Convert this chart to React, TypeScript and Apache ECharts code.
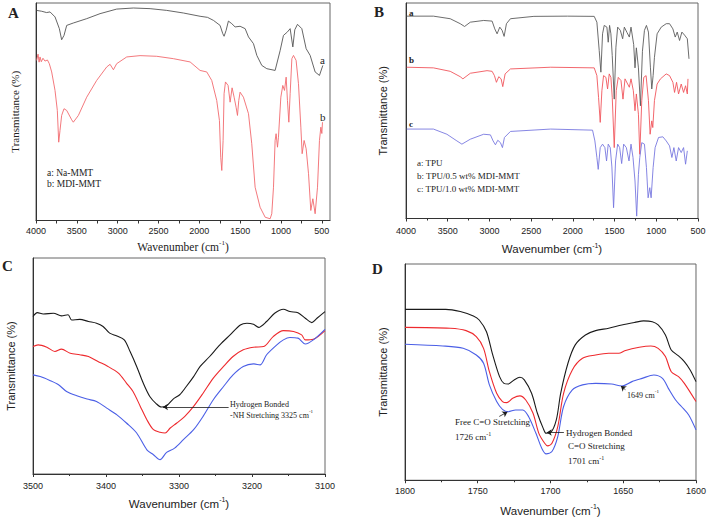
import React, { useEffect, useRef } from "react";
import * as echarts from "echarts";

// ---------- Panel A (Na-MMT / MDI-MMT) ----------
const ticksA = [4000, 3500, 3000, 2500, 2000, 1500, 1000, 500];
const minorA = [4000, 3750, 3500, 3250, 3000, 2750, 2500, 2250, 2000, 1750, 1500, 1250, 1000, 750, 500];
const naMMT: [number, number][] = [
  [3992, 96.6], [3930, 96.2], [3870, 95.6], [3828, 95.9], [3767, 93.6], [3714, 88.2], [3686, 83.1], [3657, 85.1],
  [3624, 89.7], [3543, 90.8], [3379, 92.8], [3216, 95.1], [3012, 97.2], [2807, 97.7], [2603, 97.4], [2399, 96.6],
  [2195, 95.4], [1991, 93.9], [1900, 93.4], [1827, 92.0], [1746, 89.7], [1713, 85.9], [1697, 84.7], [1672, 87.4],
  [1644, 91.7], [1603, 90.5], [1562, 89.0], [1501, 89.3], [1439, 88.2], [1398, 84.4], [1337, 81.3], [1296, 75.9],
  [1235, 71.3], [1174, 69.8], [1072, 69.0], [1010, 78.2], [970, 85.1], [921, 86.7], [888, 88.2], [855, 79.8],
  [831, 87.7], [798, 90.2], [745, 88.2], [692, 79.0], [643, 75.9], [582, 68.3], [529, 66.7], [488, 71.3],
];
const mdiMMT: [number, number][] = [
  [3992, 73.6], [3975, 76.5], [3962, 72.8], [3951, 75.2], [3935, 73.0], [3915, 74.6], [3890, 73.3], [3860, 73.8],
  [3837, 72.1], [3808, 68.3], [3767, 59.8], [3739, 50.6], [3722, 36.0], [3706, 41.4], [3686, 48.3], [3657, 51.4],
  [3624, 50.6], [3563, 46.3], [3543, 45.2], [3481, 48.3], [3379, 56.7], [3257, 64.4], [3134, 70.6], [3093, 71.8],
  [3052, 69.3], [3012, 72.1], [2889, 75.2], [2726, 75.8], [2522, 75.5], [2317, 74.4], [2113, 72.9], [1991, 69.0],
  [1909, 68.3], [1848, 64.4], [1787, 55.2], [1754, 46.0], [1738, 29.1], [1725, 23.0], [1709, 36.8], [1697, 58.3],
  [1680, 63.7], [1648, 62.1], [1623, 54.4], [1599, 61.0], [1574, 56.7], [1550, 52.1], [1533, 48.3], [1517, 55.2],
  [1501, 59.0], [1460, 56.7], [1398, 49.1], [1358, 35.3], [1317, 15.3], [1256, 6.1], [1194, 1.5], [1133, 0.8],
  [1113, 3.1], [1092, 15.3], [1072, 36.8], [1060, 39.9], [1043, 33.7], [1031, 38.3], [1002, 56.7], [978, 62.1],
  [957, 59.8], [937, 65.9], [921, 55.2], [904, 45.2], [888, 58.3], [867, 74.4], [847, 75.9], [815, 73.6],
  [786, 62.9], [757, 42.9], [741, 30.7], [717, 36.8], [692, 33.0], [663, 21.5], [635, 4.6], [610, 10.0],
  [582, 3.1], [553, 15.3], [529, 36.8], [512, 42.9], [500, 40.0], [492, 45.2],
];

// ---------- Panel B (TPU composites) ----------
const tpu: [number, number][] = [
  [3992, 93.9], [3671, 93.9], [3470, 92.7], [3350, 90.4], [3298, 89.1], [3229, 91.1], [3069, 91.9], [2968, 91.6],
  [2936, 88.0], [2908, 85.7], [2876, 88.8], [2848, 87.3], [2824, 84.5], [2796, 90.4], [2748, 92.7], [2467, 93.8],
  [2065, 93.9], [1744, 93.8], [1712, 91.1], [1684, 77.9], [1664, 67.9], [1644, 85.7], [1624, 89.6], [1592, 88.8],
  [1576, 81.8], [1560, 89.6], [1544, 85.7], [1528, 75.6], [1504, 55.4], [1484, 79.5], [1463, 88.8], [1431, 87.3],
  [1403, 83.4], [1383, 88.8], [1351, 86.3], [1323, 84.2], [1303, 88.8], [1271, 80.7], [1255, 69.9], [1239, 79.2],
  [1214, 69.9], [1190, 52.3], [1166, 77.6], [1142, 87.3], [1118, 89.6], [1094, 86.5], [1070, 69.9], [1054, 60.1],
  [1038, 66.3], [1022, 74.8], [990, 85.7], [941, 88.8], [881, 90.4], [841, 90.4], [801, 88.0], [773, 84.2],
  [749, 86.5], [721, 82.6], [693, 86.5], [661, 85.1], [628, 83.4], [608, 74.1],
];
const tpu05: [number, number][] = [
  [3992, 70.2], [3671, 69.9], [3470, 68.3], [3350, 65.8], [3318, 64.8], [3229, 67.4], [3029, 68.6], [2968, 68.3],
  [2940, 66.3], [2916, 63.2], [2888, 65.8], [2860, 64.8], [2840, 61.2], [2812, 67.1], [2748, 69.4], [2266, 70.2],
  [1744, 69.9], [1712, 66.3], [1692, 56.2], [1672, 44.6], [1652, 59.3], [1632, 66.3], [1604, 65.5], [1584, 60.1],
  [1564, 67.1], [1544, 65.5], [1528, 56.2], [1504, 32.9], [1480, 59.3], [1456, 65.5], [1423, 64.0], [1399, 55.4],
  [1375, 64.8], [1343, 62.4], [1323, 60.9], [1303, 64.8], [1275, 59.3], [1255, 50.0], [1239, 57.8], [1214, 48.4],
  [1198, 29.8], [1174, 54.7], [1150, 65.5], [1122, 66.3], [1094, 54.7], [1074, 39.1], [1054, 45.3], [1042, 42.2],
  [1022, 54.7], [990, 62.4], [950, 64.8], [881, 67.1], [841, 66.3], [801, 63.2], [781, 58.5], [757, 63.2],
  [733, 57.8], [701, 62.4], [673, 58.5], [649, 61.6], [628, 57.8], [620, 64.8],
];
const tpu10: [number, number][] = [
  [3992, 41.5], [3671, 41.5], [3510, 39.1], [3390, 36.0], [3330, 34.5], [3229, 36.8], [3069, 39.1], [2988, 38.8],
  [2956, 36.0], [2928, 34.2], [2900, 36.3], [2868, 35.2], [2844, 32.9], [2820, 37.6], [2748, 40.4], [2266, 41.5],
  [1764, 41.0], [1736, 36.0], [1712, 28.3], [1696, 22.8], [1672, 32.9], [1644, 34.5], [1616, 32.9], [1596, 26.7],
  [1576, 34.5], [1552, 32.9], [1532, 23.9], [1512, 5.0], [1488, 26.7], [1463, 34.5], [1439, 32.9], [1415, 25.5],
  [1391, 34.5], [1359, 32.9], [1327, 26.7], [1303, 34.5], [1279, 28.3], [1255, 17.4], [1235, 1.1], [1214, 20.5],
  [1198, 28.3], [1174, 35.2], [1142, 34.5], [1118, 23.6], [1098, 9.6], [1078, 14.3], [1062, 9.6], [1038, 23.6],
  [1014, 32.9], [973, 37.6], [921, 37.9], [881, 36.0], [841, 33.7], [813, 28.3], [789, 32.9], [761, 26.7],
  [733, 32.9], [701, 30.6], [673, 32.9], [649, 25.2], [628, 31.4],
];

// ---------- Panel C (N-H region) ----------
const cBlack: [number, number][] = [
  [3500, 72.9], [3494, 74.7], [3486, 74.1], [3472, 74.4], [3461, 73.2], [3452, 73.7], [3447, 71.3], [3436, 71.6],
  [3424, 70.6], [3413, 69.8], [3404, 68.3], [3395, 65.2], [3385, 63.9], [3375, 62.1], [3367, 56.7], [3358, 49.8],
  [3349, 42.1], [3340, 35.9], [3331, 32.5], [3324, 31.0], [3317, 31.6], [3308, 34.7], [3299, 36.7], [3290, 40.5],
  [3280, 45.1], [3271, 49.8], [3258, 54.4], [3244, 59.8], [3230, 64.4], [3216, 69.0], [3207, 69.8], [3198, 69.3],
  [3191, 67.9], [3180, 70.6], [3169, 74.4], [3157, 76.3], [3148, 75.2], [3137, 74.7], [3127, 72.1], [3118, 70.1],
  [3111, 72.1], [3100, 75.2],
];
const cRed: [number, number][] = [
  [3500, 59.0], [3493, 59.8], [3481, 58.7], [3470, 56.7], [3461, 57.8], [3449, 55.9], [3436, 55.2], [3424, 54.4],
  [3411, 52.1], [3399, 50.1], [3383, 46.7], [3372, 42.1], [3363, 38.2], [3353, 31.3], [3344, 25.1], [3335, 20.5],
  [3326, 19.3], [3319, 19.0], [3312, 21.3], [3303, 23.6], [3292, 26.7], [3280, 31.3], [3267, 37.4], [3253, 44.4],
  [3239, 49.8], [3226, 54.4], [3212, 57.5], [3198, 58.7], [3184, 59.0], [3171, 63.6], [3157, 66.4], [3143, 66.0],
  [3132, 64.4], [3127, 62.1], [3116, 62.4], [3100, 66.4],
];
const cBlue: [number, number][] = [
  [3500, 45.9], [3490, 45.1], [3477, 43.3], [3465, 41.3], [3454, 38.2], [3440, 36.2], [3426, 34.7], [3413, 33.6],
  [3399, 30.5], [3385, 27.4], [3372, 23.6], [3358, 19.0], [3344, 11.2], [3335, 8.9], [3326, 6.6], [3317, 10.0],
  [3306, 12.0], [3294, 15.9], [3280, 20.5], [3267, 26.7], [3253, 34.4], [3239, 40.5], [3226, 45.9], [3212, 49.8],
  [3198, 51.0], [3189, 50.5], [3180, 55.2], [3166, 59.8], [3157, 62.1], [3148, 63.2], [3137, 62.9], [3127, 60.2],
  [3116, 62.1], [3100, 67.0],
];

// ---------- Panel D (C=O region) ----------
const dBlack: [number, number][] = [
  [1800, 79.0], [1787, 79.0], [1772, 79.0], [1762, 78.0], [1753, 76.0], [1749, 74.1], [1744, 68.7], [1740, 58.7],
  [1735, 47.9], [1732, 44.8], [1729, 44.5], [1725, 46.4], [1721, 47.6], [1718, 46.4], [1713, 40.2], [1709, 31.0],
  [1705, 24.0], [1703, 21.7], [1700, 22.0], [1696, 27.9], [1693, 40.2], [1688, 54.1], [1683, 62.6], [1676, 67.2],
  [1669, 69.2], [1660, 70.3], [1651, 71.8], [1642, 73.0], [1636, 73.7], [1630, 73.3], [1626, 71.8], [1621, 67.2],
  [1617, 60.2], [1612, 57.5], [1608, 54.9], [1604, 51.0], [1600, 45.6],
];
const dRed: [number, number][] = [
  [1800, 70.7], [1769, 70.3], [1758, 69.2], [1751, 66.4], [1746, 61.0], [1742, 50.2], [1737, 40.2], [1733, 36.4],
  [1730, 35.9], [1726, 37.9], [1721, 39.0], [1717, 37.1], [1712, 31.0], [1708, 21.7], [1704, 17.1], [1702, 15.9],
  [1699, 17.1], [1695, 24.8], [1691, 40.2], [1685, 51.0], [1678, 56.4], [1669, 57.9], [1660, 58.7], [1653, 58.7],
  [1649, 59.9], [1639, 61.5], [1631, 62.1], [1626, 61.0], [1621, 57.2], [1617, 50.2], [1612, 47.9], [1608, 44.8],
  [1600, 36.4],
];
const dBlue: [number, number][] = [
  [1800, 62.9], [1774, 62.1], [1760, 61.0], [1751, 57.9], [1746, 54.1], [1742, 44.1], [1737, 36.4], [1733, 32.8],
  [1729, 31.7], [1724, 32.5], [1719, 32.5], [1715, 29.4], [1710, 21.7], [1706, 14.8], [1703, 12.2], [1699, 13.3],
  [1695, 20.2], [1691, 34.1], [1685, 41.8], [1678, 44.1], [1669, 44.8], [1658, 44.5], [1651, 43.6], [1644, 45.6],
  [1637, 47.1], [1629, 48.7], [1623, 47.1], [1619, 42.5], [1614, 37.1], [1610, 34.1], [1605, 30.2], [1600, 23.3],
];

const SANS = "'Liberation Sans', Arial, sans-serif";
const SERIF = "'Liberation Serif', 'Times New Roman', serif";
const AXIS_COLOR = "#333";
const plain = (v: number) => String(v);

const supRich = (font: string, size: number) => ({
  n: { fontFamily: font, fontSize: size, color: "#222", lineHeight: size + 4 },
  s: { fontFamily: font, fontSize: Math.round(size * 0.65), color: "#222", verticalAlign: "top" as const, lineHeight: size + 4 },
});

function xAxisBase(grid: number, font: string, nameGap: number, labelMargin: number) {
  return {
    type: "value" as const,
    gridIndex: grid,
    inverse: true,
    name: "{n|Wavenumber (cm}{s|-1}{n|)}",
    nameLocation: "middle" as const,
    nameGap,
    nameTextStyle: { rich: supRich(font, 11.5) },
    axisLine: { show: true, onZero: false, lineStyle: { color: AXIS_COLOR, width: 1 } },
    axisTick: { show: true, inside: false, length: 3, lineStyle: { color: AXIS_COLOR } },
    minorTick: { show: true, splitNumber: 2, length: 2, lineStyle: { color: AXIS_COLOR } },
    axisLabel: { fontFamily: SANS, fontSize: 9, color: "#222", margin: labelMargin, formatter: plain },
    splitLine: { show: false },
    minorSplitLine: { show: false },
  };
}

function yAxisBase(grid: number, font: string, nameGap: number) {
  return {
    type: "value" as const,
    gridIndex: grid,
    min: 0,
    max: 100,
    name: "Transmittance (%)",
    nameLocation: "middle" as const,
    nameGap,
    nameTextStyle: { fontFamily: font, fontSize: 11, color: "#222" },
    axisLine: { show: true, lineStyle: { color: AXIS_COLOR, width: 1 } },
    axisTick: { show: false },
    axisLabel: { show: false },
    splitLine: { show: false },
  };
}

function line(data: [number, number][], idx: number, color: string, width: number, smooth: number | boolean, extra: any = {}) {
  return {
    type: "line" as const,
    xAxisIndex: idx,
    yAxisIndex: idx,
    data,
    showSymbol: false,
    symbol: "none",
    smooth,
    lineStyle: { color, width },
    itemStyle: { color },
    silent: true,
    ...extra,
  };
}

function arrow(from: [number, number], to: [number, number], color: string) {
  return {
    silent: true,
    animation: false,
    symbol: ["none", "arrow"],
    symbolSize: 5,
    label: { show: false },
    lineStyle: { color, width: 0.8, type: "solid" as const },
    data: [[{ coord: from }, { coord: to }]],
  };
}

function txt(x: number, y: number, text: string, font: string, size: number, opts: any = {}) {
  return {
    type: "text" as const,
    x,
    y,
    silent: true,
    style: {
      text,
      fontFamily: font,
      fontSize: size,
      fill: "#222",
      verticalAlign: "middle",
      ...opts,
    },
  };
}

function supTxt(x: number, y: number, text: string, size: number) {
  return {
    type: "text" as const,
    x,
    y,
    silent: true,
    style: {
      text,
      fontFamily: SERIF,
      fontSize: size,
      fill: "#222",
      verticalAlign: "middle",
      rich: supRich(SERIF, size),
    },
  };
}

export default function App() {
  const ref = useRef<HTMLDivElement>(null);
  useEffect(() => {
    if (!ref.current) return;
    const chart = echarts.init(ref.current, null, { renderer: "svg" });
    const gridStyle = { show: true, borderColor: "#666", borderWidth: 1, containLabel: false };
    const option: any = {
      animation: false,
      backgroundColor: "#fff",
      grid: [
        { ...gridStyle, left: 36, top: 3, width: 294, height: 217.5 },
        { ...gridStyle, left: 406, top: 3, width: 292, height: 215.5 },
        { ...gridStyle, left: 33, top: 258, width: 292, height: 216 },
        { ...gridStyle, left: 405, top: 264, width: 293, height: 217 },
      ],
      xAxis: [
        {
          ...xAxisBase(0, SERIF, 19, 6),
          min: 400,
          max: 4000,
          axisLabel: { fontFamily: SANS, fontSize: 9, color: "#222", margin: 6, customValues: ticksA, formatter: plain },
          axisTick: { show: true, length: 3, lineStyle: { color: AXIS_COLOR }, customValues: minorA },
          minorTick: { show: false },
        },
        { ...xAxisBase(1, SANS, 23, 8), min: 500, max: 4000, interval: 500 },
        { ...xAxisBase(2, SANS, 22, 7), min: 3100, max: 3500, interval: 100 },
        { ...xAxisBase(3, SANS, 23, 6), min: 1600, max: 1800, interval: 50 },
      ],
      yAxis: [yAxisBase(0, SERIF, 16), yAxisBase(1, SANS, 18), yAxisBase(2, SANS, 17), yAxisBase(3, SANS, 17)],
      series: [
        line(naMMT, 0, "#555555", 0.9, false),
        line(mdiMMT, 0, "#f26a6e", 0.9, false),
        line(tpu, 1, "#5c5c5c", 0.9, false),
        line(tpu05, 1, "#f0565c", 0.9, false),
        line(tpu10, 1, "#7878e0", 0.9, false),
        line(cBlack, 2, "#1a1a1a", 1.1, 0.3, { markLine: arrow([3232, 31.0], [3322, 31.0], "#1a1a1a") }),
        line(cRed, 2, "#ee2a2e", 1.1, 0.3),
        line(cBlue, 2, "#4b5fe6", 1.1, 0.3),
        line(dBlack, 3, "#1a1a1a", 1.1, 0.3, { markLine: arrow([1690.8, 22.1], [1702.6, 22.1], "#1a1a1a") }),
        line(dRed, 3, "#ee2a2e", 1.1, 0.3),
        line(dBlue, 3, "#4b5fe6", 1.1, 0.3, {
          markLine: {
            ...arrow([1735.2, 29.5], [1729.6, 31.6], "#1a1a1a"),
            data: [
              [{ coord: [1735.2, 29.5] }, { coord: [1729.6, 31.6] }],
              [{ coord: [1648.5, 41.9] }, { coord: [1651.6, 43.6] }],
            ],
          },
        }),
      ],
      graphic: [
        // panel letters
        txt(8, 13, "A", SERIF, 15, { fontWeight: "bold" }),
        txt(374, 12, "B", SERIF, 15, { fontWeight: "bold" }),
        txt(2, 266, "C", SERIF, 15, { fontWeight: "bold" }),
        txt(372, 269, "D", SERIF, 15, { fontWeight: "bold" }),
        // panel A labels
        txt(320, 60, "a", SERIF, 11),
        txt(320, 117, "b", SERIF, 11),
        txt(47, 173, "a: Na-MMT", SERIF, 9.5),
        txt(47, 184, "b: MDI-MMT", SERIF, 9.5),
        // panel B labels
        txt(409, 13, "a", SERIF, 9, { fontWeight: "bold" }),
        txt(409, 60, "b", SERIF, 9, { fontWeight: "bold" }),
        txt(409, 124, "c", SERIF, 9, { fontWeight: "bold" }),
        txt(417, 163, "a: TPU", SERIF, 9),
        txt(417, 176, "b: TPU/0.5 wt% MDI-MMT", SERIF, 9),
        txt(417, 189, "c: TPU/1.0 wt% MDI-MMT", SERIF, 9),
        // panel C annotation
        txt(230, 404, "Hydrogen Bonded", SERIF, 8),
        supTxt(230, 415, "{n|-NH Stretching 3325 cm}{s|-1}", 8),
        // panel D annotations
        txt(455, 422, "Free C=O Stretching", SERIF, 9),
        supTxt(455, 437, "{n|1726 cm}{s|-1}", 9),
        txt(566, 433, "Hydrogen Bonded", SERIF, 9),
        txt(568, 446, "C=O Stretching", SERIF, 9),
        supTxt(568, 461, "{n|1701 cm}{s|-1}", 9),
        supTxt(627, 395, "{n|1649 cm}{s|-1}", 8),
      ],
    };
    chart.setOption(option);
    return () => chart.dispose();
  }, []);
  return (
    <div
      ref={ref}
      style={{ position: "fixed", left: 0, top: 0, width: 709, height: 518, background: "#fff" }}
    />
  );
}
